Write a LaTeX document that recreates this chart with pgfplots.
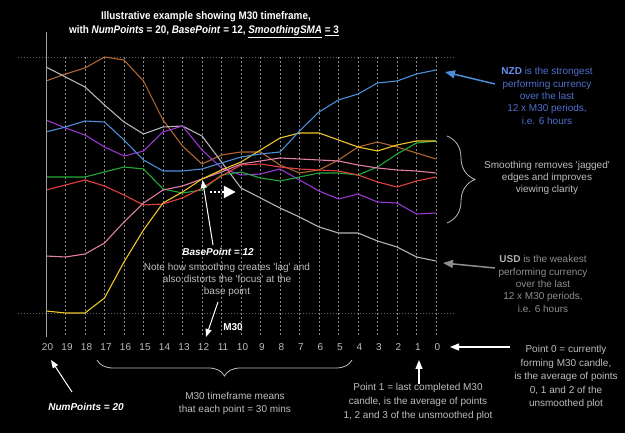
\documentclass[border=0pt]{standalone}
\usepackage{fontspec}
\setmainfont{Liberation Sans}[Ligatures=TeXOff]
\newfontfamily\titlefont{Liberation Sans}[FakeStretch=0.9,Ligatures=TeXOff]
\usepackage{pgfplots}
\pgfplotsset{compat=1.18}
\usetikzlibrary{arrows.meta,decorations.pathreplacing}

\definecolor{cBrown}{HTML}{B0652F}
\definecolor{cGray}{HTML}{B4B4B4}
\definecolor{cBlue}{HTML}{4A8FD8}
\definecolor{cPurple}{HTML}{9A35CF}
\definecolor{cGreen}{HTML}{22A838}
\definecolor{cRed}{HTML}{E0413C}
\definecolor{cPink}{HTML}{E27FA5}
\definecolor{cYellow}{HTML}{EEC52A}
\definecolor{nzdText}{HTML}{4F6FCF}
\definecolor{nzdBold}{HTML}{6F8FF0}
\definecolor{noteGray}{HTML}{BDBDBD}
\definecolor{usdText}{HTML}{8E8E8E}
\definecolor{usdBold}{HTML}{B0B0B0}
\definecolor{hgrid}{HTML}{55606A}
\definecolor{vgrid}{HTML}{8A8A8A}

\begin{document}
\begin{tikzpicture}[x=1pt,y=1pt]
\fill[black] (0,0) rectangle (625,433);
\useasboundingbox (0,0) rectangle (625,433);

\begin{axis}[
  at={(18pt,98pt)}, anchor=south west,
  scale only axis, width=437pt, height=278pt,
  xmin=-1.436, xmax=20.974, ymin=98, ymax=376,
  axis line style={draw=none},
  major tick length=0pt,
  xtick={0,...,20},
  xticklabels={20,19,18,17,16,15,14,13,12,11,10,9,8,7,6,5,4,3,2,1,0},
  xticklabel style={anchor=center, yshift=-12pt, xshift=1.5pt,
    text=noteGray, font=\fontsize{10}{12}\selectfont},
  ytick={120,376}, yticklabels={},
  xmajorgrids, ymajorgrids,
  major x grid style={vgrid, line width=0.5pt, dash pattern=on 2pt off 2pt},
  major y grid style={hgrid, line width=0.6pt, dash pattern=on 1pt off 2pt},
  every axis plot/.append style={line width=1.1pt, mark=none},
  clip=false,
]
% x = 20 - point index, y = currency strength (smoothed)
\addplot[cBrown] coordinates {(0,352)(1,359)(2,365)(3,376)(4,373)(5,352)(6,313)(7,287)(8,269)(9,278)(10,281)(11,281)(12,268)(13,260)(14,263)(15,273)(16,286)(17,291)(18,286)(19,280)(20,274)};
\addplot[cGray] coordinates {(0,366)(1,356)(2,346)(3,328)(4,311)(5,299)(6,306)(7,307)(8,297)(9,271)(10,245)(11,235)(12,225)(13,216)(14,206)(15,200)(16,200)(17,192)(18,186)(19,176)(20,172)};
\addplot[cPurple] coordinates {(0,313)(1,305)(2,298)(3,286)(4,277)(5,282)(6,301)(7,307)(8,283)(9,265)(10,258)(11,259)(12,264)(13,253)(14,242)(15,234)(16,239)(17,231)(18,230)(19,219)(20,220)};
\addplot[cGreen] coordinates {(0,256)(1,256)(2,256)(3,261)(4,266)(5,264)(6,244)(7,240)(8,243)(9,258)(10,261)(11,255)(12,252)(13,256)(14,260)(15,260)(16,258)(17,266)(18,279)(19,290)(20,292)};
\addplot[cRed] coordinates {(0,243)(1,248)(2,253)(3,247)(4,238)(5,228)(6,229)(7,235)(8,245)(9,257)(10,268)(11,269)(12,266)(13,264)(14,263)(15,262)(16,258)(17,251)(18,246)(19,252)(20,256)};
\addplot[cPink] coordinates {(0,177)(1,176)(2,179)(3,190)(4,211)(5,230)(6,243)(7,247)(8,254)(9,261)(10,269)(11,272)(12,275)(13,274)(14,273)(15,272)(16,268)(17,265)(18,263)(19,262)(20,260)};
\addplot[cYellow] coordinates {(0,122)(1,120)(2,120)(3,135)(4,171)(5,203)(6,230)(7,241)(8,254)(9,263)(10,271)(11,283)(12,295)(13,300)(14,300)(15,293)(16,286)(17,282)(18,288)(19,292)(20,292)};
\addplot[cBlue] coordinates {(0,301)(1,306)(2,312)(3,311)(4,293)(5,273)(6,262)(7,262)(8,264)(9,270)(10,276)(11,279)(12,281)(13,302)(14,321)(15,333)(16,339)(17,350)(18,352)(19,359)(20,363)};
\end{axis}

% left axis line
\draw[gray!75, line width=0.9pt] (46,401) -- (46,96);

% title
\node[text=white, font=\titlefont\bfseries\fontsize{11}{13}\selectfont] at (206,416)
  {Illustrative example showing M30 timeframe,};
\node[text=white, font=\titlefont\bfseries\fontsize{11}{13}\selectfont] at (204,401)
  {with \textit{NumPoints} = 20, \textit{BasePoint} = 12, \underline{\textit{SmoothingSMA}} \underline{= 3}};

% strongest currency
\node[text=nzdText, align=center, font=\fontsize{10}{12.4}\selectfont] at (547,337)
  {\textcolor{nzdBold}{\textbf{NZD}} is the strongest\\performing currency\\over the last\\12 x M30 periods,\\i.e. 6 hours};
\draw[cBlue, line width=1.5pt, -{Triangle[length=10pt,width=8pt]}] (495,349) -- (445,361);

% smoothing note
\draw[decorate, decoration={brace, amplitude=28pt}, noteGray, line width=0.8pt] (447,297) -- (447,210);
\node[text=noteGray, align=center, font=\fontsize{10}{12}\selectfont] at (547,255)
  {Smoothing removes 'jagged'\\edges and improves\\viewing clarity};

% weakest currency
\node[text=usdText, align=center, font=\fontsize{10}{12.4}\selectfont] at (543,149)
  {\textcolor{usdBold}{\textbf{USD}} is the weakest\\performing currency\\over the last\\12 x M30 periods,\\i.e. 6 hours};
\draw[usdText, line width=1.5pt, -{Triangle[length=10pt,width=8pt]}] (495,165) -- (443,170);

% base point
\draw[white, line width=1pt, -{Triangle[length=8pt,width=6pt]}] (213,188) -- (202.5,253);
\draw[white, line width=1.6pt, dash pattern=on 2pt off 2pt] (210,241) -- (224,241);
\draw[white, fill=white] (224,235) -- (235,241) -- (224,247) -- cycle;
\node[text=white, font=\bfseries\itshape\fontsize{10}{12}\selectfont] at (218,181) {BasePoint = 12};
\node[text=noteGray, align=center, font=\fontsize{10}{12}\selectfont] at (227,153)
  {Note how smoothing creates 'lag' and\\also distorts the 'focus' at the\\base point};
\draw[white, line width=1pt, -{Triangle[length=8pt,width=6pt]}] (218,131) -- (206,96);

\node[text=white, font=\bfseries\fontsize{10}{12}\selectfont] at (233,106) {M30};

% bottom notes
\draw[white, line width=1.2pt, -{Triangle[length=9pt,width=7pt]}] (510,86) -- (450,86);
\node[text=noteGray, align=center, font=\fontsize{10}{13.5}\selectfont] at (566,56)
  {Point 0 = currently\\forming M30 candle,\\is the average of points\\0, 1 and 2 of the\\unsmoothed plot};

\draw[white, line width=1.2pt, -{Triangle[length=9pt,width=7pt]}] (419,49) -- (419,73);
\node[text=noteGray, align=center, font=\fontsize{10}{14}\selectfont] at (418,31)
  {Point 1 = last completed M30\\candle, is the average of points\\1, 2 and 3 of the unsmoothed plot};

\draw[decorate, decoration={brace, amplitude=16pt}, noteGray, line width=0.8pt] (352,73) -- (97,73);
\node[text=noteGray, align=center, font=\fontsize{10}{13}\selectfont] at (235,30)
  {M30 timeframe means\\that each point = 30 mins};

\draw[white, line width=1pt, -{Triangle[length=8pt,width=6pt]}] (72,41) -- (51,73);
\node[text=white, font=\bfseries\itshape\fontsize{10}{12}\selectfont] at (86,26) {NumPoints = 20};
\end{tikzpicture}
\end{document}
